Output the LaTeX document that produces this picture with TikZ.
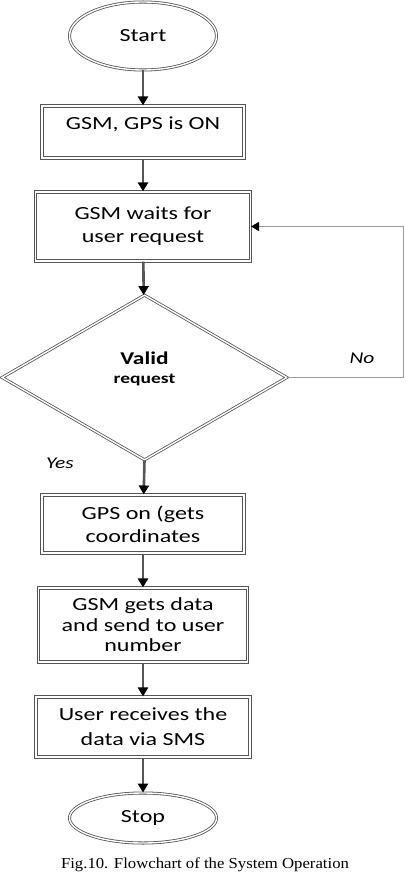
\documentclass[tikz,border=0pt]{standalone}
\usepackage{fontspec}
\setmainfont{Carlito}[FakeStretch=1.3]
\newfontfamily\capfont{Liberation Serif}[FakeStretch=1.1]
\usetikzlibrary{arrows.meta,positioning,shapes.geometric}
\definecolor{framecol}{RGB}{85,85,85}
\definecolor{loopcol}{RGB}{155,155,155}
\newcommand{\boxfont}{\fontsize{18.5}{23}\selectfont}

\begin{document}
\begin{tikzpicture}[x=1pt, y=1pt,
    stepbox/.style={draw=framecol, double=white, double distance=1.5pt, line width=1.1pt, inner sep=0pt, align=center, font=\boxfont},
    term/.style={ellipse, draw=framecol, double=white, double distance=1.4pt, line width=0.8pt, minimum width=147pt, inner sep=0pt, font=\boxfont},
    decide/.style={diamond, draw=framecol, double=white, double distance=1.4pt, line width=0.8pt, inner sep=0pt, align=center, font=\bfseries\fontsize{18}{22}\selectfont},
    flow/.style={draw=framecol, line width=2.6pt, -{Triangle[width=10pt, length=9pt, color=black]}},
    back/.style={draw=loopcol, line width=1.3pt, -{Triangle[width=9pt, length=8pt, color=black]}},
    lbl/.style={font=\itshape\fontsize{16.5}{18}\selectfont},
]
\useasboundingbox (0,0) rectangle (405,-874);

\node[term, minimum height=68pt] (start) at (143,-36) {Start};
\node[stepbox, minimum width=202pt, minimum height=52pt, text depth=18pt] (gsmon) at (143,-132) {GSM, GPS is ON};
\node[stepbox, minimum width=215pt, minimum height=69pt] (wait) at (143,-226.5) {GSM waits for\\user request};
\node[decide, minimum width=285pt, minimum height=165pt, text depth=20pt] (valid) at (144.5,-377.5)
  {Valid\\[-3pt]{\fontsize{15}{18}\selectfont request}};
\node[stepbox, minimum width=202pt, minimum height=58pt] (gpson) at (143,-524) {GPS on (gets\\coordinates};
\node[stepbox, minimum width=209pt, minimum height=74pt, font=\fontsize{18.5}{20.5}\selectfont] (getdata) at (143,-625)
  {GSM gets data\\and send to user\\number};
\node[stepbox, minimum width=214pt, minimum height=60pt, font=\fontsize{18.5}{25}\selectfont] (recv) at (143,-727) {User receives the\\data via SMS};
\node[term, minimum height=50pt] (stop) at (143,-818) {Stop};

\node[lbl] (no) at (362,-358) {No};
\node[lbl] (yes) at (60,-463) {Yes};
\node[font=\capfont\fontsize{15.2}{17}\selectfont] (cap) at (205,-865) {Fig.10. Flowchart of the System Operation};

\draw[flow] (start) -- (gsmon);
\draw[flow] (gsmon) -- (wait);
\draw[flow] (wait) -- (valid);
\draw[flow] (valid.south) -- (gpson);
\draw[flow] (gpson) -- (getdata);
\draw[flow] (getdata) -- (recv);
\draw[flow] (recv) -- (stop);
\draw[back] (valid.east) -- ++(116,0) |- (wait.east);
\end{tikzpicture}
\end{document}
